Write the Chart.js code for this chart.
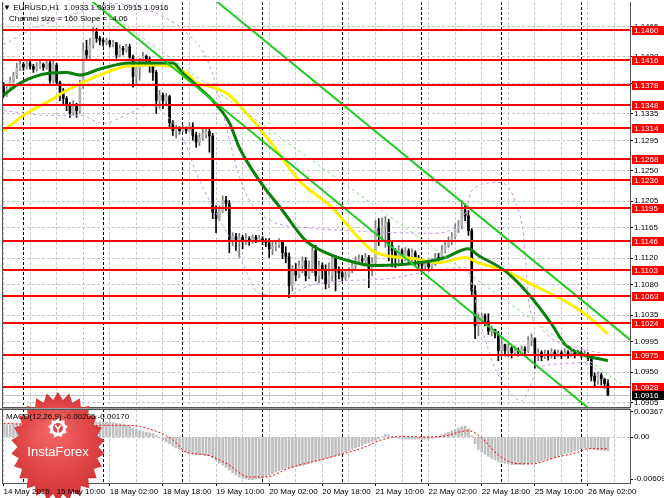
<!DOCTYPE html>
<html>
<head>
<meta charset="utf-8">
<script src="https://cdn.jsdelivr.net/npm/chart.js@4.4.0/dist/chart.umd.min.js"></script>
<style>
html,body{margin:0;padding:0;background:#fff;}
#wrap{position:relative;width:664px;height:498px;overflow:hidden;font-family:"Liberation Sans",Arial,sans-serif;}
#mainChart{position:absolute;left:0;top:0;}
#macdChart{position:absolute;left:0;top:388px;}
.lbl{position:absolute;font-size:8px;line-height:10px;color:#000;white-space:pre;}
</style>
</head>
<body>
<div id="wrap">
<canvas id="mainChart" width="664" height="408"></canvas>
<canvas id="macdChart" width="664" height="110"></canvas>
<div class="lbl" style="left:3px;top:3px">▼ EURUSD,H1  1.0933 1.0939 1.0915 1.0916</div>
<div class="lbl" style="left:9px;top:14px">Channel size = 160 Slope = -4.06</div>
<div class="lbl" style="left:6px;top:412px">MACD(12,26,9) -0.00205 -0.00170</div>
</div>
<script>
// EURUSD H1, one bar per hour starting 14 May 2015 18:00
const firstOpen = 1.1378;
const closes = [
1.1363,1.1373,1.1385,1.1393,1.1403,1.1409,1.1405,1.1411,1.1406,1.1402,
1.1406,1.1409,1.1405,1.1411,1.1385,1.1408,1.1382,1.1367,1.1358,1.1349,
1.1337,1.1346,1.1340,1.1378,1.1430,1.1423,1.1438,1.1457,1.1448,1.1445,
1.1442,1.1444,1.1439,1.1441,1.1423,1.1433,1.1430,1.1435,1.1420,1.1391,
1.1403,1.1412,1.1421,1.1415,1.1408,1.1397,1.1355,1.1363,1.1355,1.1361,
1.1322,1.1310,1.1313,1.1310,1.1313,1.1310,1.1316,1.1303,1.1293,1.1299,
1.1305,1.1309,1.1302,1.1188,1.1179,1.1191,1.1206,1.1201,1.1146,1.1152,
1.1146,1.1151,1.1146,1.1149,1.1146,1.1151,1.1148,1.1149,1.1146,1.1143,
1.1134,1.1137,1.1140,1.1145,1.1128,1.1122,1.1079,1.1101,1.1095,1.1109,
1.1116,1.1094,1.1104,1.1131,1.1094,1.1109,1.1101,1.1082,1.1094,1.1119,
1.1101,1.1098,1.1092,1.1095,1.1101,1.1109,1.1116,1.1119,1.1116,1.1121,
1.1104,1.1113,1.1164,1.1154,1.1168,1.1173,1.1139,1.1131,1.1124,1.1131,
1.1122,1.1131,1.1124,1.1128,1.1119,1.1113,1.1109,1.1112,1.1107,1.1113,
1.1121,1.1119,1.1131,1.1139,1.1146,1.1152,1.1164,1.1168,1.1191,1.1183,
1.1161,1.1071,1.1019,1.1029,1.1034,1.1026,1.1011,1.1014,1.1007,1.0982,
1.0991,1.0982,1.0986,1.0979,1.0983,1.0980,1.0985,1.0982,1.0997,1.1000,
1.0974,1.0979,1.0973,1.0977,1.0974,1.0980,1.0976,1.0979,1.0974,1.0980,
1.0977,1.0979,1.0976,1.0979,1.0976,1.0977,1.0973,1.0944,1.0937,1.0946,
1.0940,1.0933,1.0916];
const highs = [
1.1382,1.1376,1.1390,1.1397,1.1411,1.1415,1.1412,1.1415,1.1414,1.1409,
1.1412,1.1415,1.1411,1.1415,1.1415,1.1415,1.1411,1.1384,1.1373,1.1361,
1.1352,1.1355,1.1351,1.1385,1.1441,1.1445,1.1448,1.1464,1.1463,1.1451,
1.1448,1.1448,1.1445,1.1445,1.1442,1.1438,1.1436,1.1439,1.1439,1.1423,
1.1408,1.1418,1.1427,1.1423,1.1420,1.1410,1.1400,1.1370,1.1366,1.1366,
1.1363,1.1325,1.1318,1.1316,1.1318,1.1316,1.1322,1.1322,1.1308,1.1306,
1.1313,1.1313,1.1313,1.1306,1.1198,1.1198,1.1213,1.1212,1.1206,1.1158,
1.1157,1.1157,1.1154,1.1157,1.1152,1.1155,1.1154,1.1154,1.1152,1.1149,
1.1149,1.1145,1.1146,1.1149,1.1146,1.1137,1.1128,1.1109,1.1112,1.1116,
1.1122,1.1121,1.1116,1.1140,1.1139,1.1116,1.1113,1.1110,1.1113,1.1124,
1.1124,1.1107,1.1101,1.1100,1.1106,1.1116,1.1122,1.1125,1.1124,1.1127,
1.1124,1.1121,1.1176,1.1179,1.1180,1.1182,1.1178,1.1146,1.1134,1.1139,
1.1134,1.1136,1.1134,1.1134,1.1131,1.1124,1.1116,1.1115,1.1113,1.1119,
1.1127,1.1127,1.1139,1.1146,1.1152,1.1158,1.1171,1.1176,1.1206,1.1201,
1.1191,1.1164,1.1079,1.1037,1.1038,1.1037,1.1037,1.1019,1.1014,1.1011,
1.1000,1.0992,1.0992,1.0988,1.0989,1.0986,1.0989,1.0988,1.1003,1.1007,
1.1001,1.0985,1.0982,1.0983,1.0982,1.0985,1.0983,1.0983,1.0982,1.0985,
1.0982,1.0983,1.0982,1.0983,1.0982,1.0982,1.0979,1.0973,1.0949,1.0950,
1.0949,1.0940,1.0939];
const lows = [
1.1360,1.1361,1.1370,1.1382,1.1388,1.1400,1.1400,1.1402,1.1402,1.1397,
1.1399,1.1403,1.1400,1.1402,1.1381,1.1382,1.1378,1.1355,1.1349,1.1340,
1.1330,1.1333,1.1330,1.1336,1.1373,1.1415,1.1418,1.1433,1.1442,1.1438,
1.1436,1.1438,1.1435,1.1435,1.1418,1.1420,1.1423,1.1427,1.1418,1.1375,
1.1378,1.1385,1.1406,1.1409,1.1397,1.1385,1.1336,1.1343,1.1343,1.1349,
1.1313,1.1303,1.1299,1.1305,1.1308,1.1306,1.1309,1.1296,1.1285,1.1288,
1.1296,1.1299,1.1278,1.1179,1.1158,1.1176,1.1188,1.1191,1.1128,1.1139,
1.1131,1.1121,1.1134,1.1140,1.1139,1.1142,1.1143,1.1145,1.1140,1.1137,
1.1121,1.1125,1.1131,1.1136,1.1119,1.1113,1.1061,1.1071,1.1086,1.1091,
1.1098,1.1086,1.1089,1.1098,1.1086,1.1083,1.1089,1.1074,1.1076,1.1086,
1.1071,1.1089,1.1086,1.1088,1.1092,1.1098,1.1104,1.1112,1.1110,1.1113,
1.1076,1.1094,1.1110,1.1139,1.1146,1.1136,1.1116,1.1107,1.1106,1.1113,
1.1113,1.1116,1.1113,1.1110,1.1109,1.1106,1.1104,1.1104,1.1103,1.1104,
1.1109,1.1113,1.1117,1.1128,1.1136,1.1140,1.1149,1.1158,1.1164,1.1176,
1.1154,1.1064,1.1000,1.1004,1.1023,1.1019,1.1006,1.1004,1.1001,1.0967,
1.0973,1.0974,1.0973,1.0971,1.0976,1.0974,1.0977,1.0976,1.0979,1.0989,
1.0956,1.0967,1.0967,1.0970,1.0968,1.0971,1.0970,1.0973,1.0970,1.0973,
1.0971,1.0973,1.0971,1.0974,1.0971,1.0973,1.0967,1.0937,1.0929,1.0932,
1.0931,1.0926,1.0915];

const levels = [1.1460,1.1416,1.1378,1.1348,1.1314,1.1268,1.1236,1.1195,1.1146,1.1103,1.1063,1.1024,1.0975,1.0928];
const lastPrice = 1.0916;
const priceTicks = [1.0905,1.0950,1.0995,1.1035,1.1080,1.1120,1.1165,1.1205,1.1250,1.1295,1.1335,1.1380,1.1420,1.1465];

const timeLabels = ["14 May 2015","15 May 10:00","18 May 02:00","18 May 18:00","19 May 10:00","20 May 02:00","20 May 18:00","21 May 10:00","22 May 02:00","22 May 18:00","25 May 10:00","26 May 02:00"];
const timeLabelBars = [0,16,32,48,64,80,96,112,128,144,160,176];
const daySeparatorBars = [6,30,54,78,102,126,150,174];

// moving averages read at a few bars
const maFastBars = [0,5,14,19,23,29,38,51,54,58,63,68,71,77,84,91,99,104,111,119,129,133,140,143,151,158,165,169,174,182];
const maFastValues = [1.1363,1.1381,1.1396,1.1397,1.1393,1.1402,1.1411,1.1411,1.1396,1.1378,1.1355,1.1322,1.1285,1.1236,1.1191,1.1146,1.1124,1.1116,1.1109,1.1110,1.1116,1.1121,1.1134,1.1124,1.1101,1.1067,1.1022,1.0992,1.0977,1.0967];
const maSlowBars = [0,7,14,19,28,37,47,55,58,63,68,71,80,89,99,105,111,115,124,131,139,143,151,161,169,175,182];
const maSlowValues = [1.1310,1.1336,1.1355,1.1370,1.1391,1.1406,1.1408,1.1396,1.1382,1.1375,1.1363,1.1348,1.1296,1.1236,1.1195,1.1161,1.1131,1.1124,1.1119,1.1113,1.1121,1.1113,1.1101,1.1076,1.1056,1.1037,1.1007];

// bollinger bands
const bandUpBars = [0,8,16,25,32,41,49,55,62,72,79,92,104,129,139,141,149,154,157,158,161,166,173,181];
const bandUpValues = [1.1438,1.1460,1.1475,1.1490,1.1500,1.1494,1.1478,1.1457,1.1408,1.1228,1.1180,1.1165,1.1161,1.1157,1.1187,1.1221,1.1233,1.1206,1.1136,1.1061,1.1022,1.0997,1.0986,1.0977];
const bandLowBars = [0,14,23,30,38,44,51,55,58,71,77,85,92,102,115,129,139,144,148,153,156,158,161,167,175,182];
const bandLowValues = [1.1340,1.1333,1.1333,1.1321,1.1336,1.1348,1.1322,1.1288,1.1248,1.1124,1.1067,1.1064,1.1079,1.1086,1.1089,1.1101,1.1106,1.1016,1.0956,1.0917,1.0907,1.0922,1.0956,1.0962,1.0964,1.0937];

// equidistant channel
const chanBars = [20,190];
const chanUpper = [1.1682,1.0993];
const chanMiddle = [1.1527,1.0918];
const chanLower = [1.1530,1.0840];

// MACD(12,26,9)
const macdHist = [
0.0019,0.0018,0.0018,0.0019,0.0019,0.0020,0.0020,0.0020,0.0020,0.0019,
0.0019,0.0019,0.0018,0.0018,0.0017,0.0017,0.0016,0.0015,0.0013,0.0011,
0.0009,0.0008,0.0007,0.0008,0.0011,0.0014,0.0016,0.0019,0.0021,0.0022,
0.0022,0.0022,0.0021,0.0021,0.0020,0.0019,0.0018,0.0017,0.0016,0.0013,
0.0011,0.0009,0.0008,0.0007,0.0006,0.0005,0.0002,-0.0001,-0.0004,-0.0007,
-0.0010,-0.0013,-0.0016,-0.0018,-0.0020,-0.0022,-0.0023,-0.0024,-0.0025,-0.0026,
-0.0026,-0.0027,-0.0027,-0.0030,-0.0034,-0.0038,-0.0041,-0.0044,-0.0048,-0.0052,
-0.0055,-0.0058,-0.0060,-0.0061,-0.0062,-0.0062,-0.0061,-0.0060,-0.0059,-0.0057,
-0.0055,-0.0053,-0.0051,-0.0049,-0.0047,-0.0045,-0.0045,-0.0044,-0.0043,-0.0042,
-0.0041,-0.0040,-0.0038,-0.0036,-0.0035,-0.0034,-0.0033,-0.0031,-0.0030,-0.0029,
-0.0027,-0.0026,-0.0024,-0.0022,-0.0020,-0.0018,-0.0016,-0.0014,-0.0012,-0.0010,
-0.0008,-0.0007,-0.0005,-0.0003,0.0001,0.0004,0.0003,0.0001,-0.0001,-0.0002,
-0.0003,-0.0003,-0.0003,-0.0003,-0.0003,-0.0003,-0.0004,-0.0003,-0.0003,-0.0002,
-0.0001,0.0001,0.0003,0.0005,0.0007,0.0009,0.0011,0.0013,0.0015,0.0016,
0.0012,0.0002,-0.0010,-0.0018,-0.0022,-0.0025,-0.0028,-0.0031,-0.0033,-0.0036,
-0.0037,-0.0038,-0.0039,-0.0040,-0.0040,-0.0040,-0.0040,-0.0039,-0.0039,-0.0038,
-0.0037,-0.0036,-0.0035,-0.0033,-0.0032,-0.0031,-0.0030,-0.0028,-0.0026,-0.0024,
-0.0023,-0.0022,-0.0020,-0.0018,-0.0017,-0.0016,-0.0016,-0.0017,-0.0018,-0.0019,
-0.0019,-0.0020,-0.00205];
const signalBars = [0,19,32,37,43,51,55,61,67,74,79,86,98,108,114,120,126,132,140,143,149,154,159,166,173,176,182];
const signalValues = [0.0020,0.0016,0.0017,0.0017,0.0013,-0.0004,-0.0022,-0.0026,-0.0038,-0.0058,-0.0058,-0.0045,-0.0030,-0.0016,-0.0004,0.0001,0.0000,0.0001,0.0009,0.0003,-0.0026,-0.0038,-0.0039,-0.0030,-0.0022,-0.0017,-0.0017];
const macdTicks = [0.00367,0,-0.00609];

const xMin = -0.45, xMax = 188.65;
const fontFamily = "'Liberation Sans', Arial, sans-serif";
Chart.defaults.font.family = fontFamily;
Chart.defaults.font.size = 8;
Chart.defaults.color = "#000";

const opens = closes.map((c, i) => i === 0 ? firstOpen : closes[i - 1]);
const isUp = i => closes[i] >= opens[i];
const pts = (bars, vals) => bars.map((b, k) => ({x: b, y: vals[k]}));

const gridBars = [];
for (let b = 0; b <= 184; b += 8) gridBars.push(b);
const xGridTicks = gridBars.concat(daySeparatorBars).sort((a, b) => a - b);
const gridColor = ctx => ctx.tick && daySeparatorBars.includes(ctx.tick.value) ? "#000" : "#c8c8c8";

// keep the plot box where the terminal puts it, no room for label overflow
const noPad = s => { s.paddingTop = 0; s.paddingBottom = 0; s.paddingLeft = 0; s.paddingRight = 0; };

function lineSet(data, color, width, dash, order){
    return {type:"line", data:data, borderColor:color, borderWidth:width, borderDash:dash,
        pointRadius:0, fill:false, cubicInterpolationMode:"monotone", order:order};
}

const framePlugin = {
    id:"frame",
    afterDraw(chart){
        const {ctx, chartArea:a} = chart;
        ctx.save();
        ctx.strokeStyle = "#555";
        ctx.lineWidth = 1;
        ctx.beginPath();
        ctx.moveTo(a.left + 0.5, a.top);
        ctx.lineTo(a.left + 0.5, a.bottom);
        ctx.stroke();
        if (chart.canvas.id === "macdChart") {
            ctx.fillStyle = "#a0a0a0";
            ctx.fillRect(0, a.top - 1, a.right, 1);
            ctx.beginPath();
            ctx.moveTo(0, a.top + 0.5);
            ctx.lineTo(a.right, a.top + 0.5);
            ctx.stroke();
        }
        ctx.restore();
    }
};

const levelPlugin = {
    id:"levels",
    beforeDatasetsDraw(chart){
        const {ctx, chartArea:a, scales:{y}} = chart;
        const py = Math.round(y.getPixelForValue(lastPrice)) + 0.5;
        ctx.save();
        ctx.strokeStyle = "#c0c0c0";
        ctx.lineWidth = 1;
        ctx.beginPath();
        ctx.moveTo(a.left, py);
        ctx.lineTo(a.right, py);
        ctx.stroke();
        ctx.restore();
    },
    afterDatasetsDraw(chart){
        const {ctx, chartArea:a, scales:{y}} = chart;
        ctx.save();
        ctx.strokeStyle = "#ff0000";
        ctx.lineWidth = 2;
        levels.forEach(v => {
            const py = Math.round(y.getPixelForValue(v));
            ctx.beginPath();
            ctx.moveTo(a.left, py);
            ctx.lineTo(a.right, py);
            ctx.stroke();
        });
        ctx.restore();
    },
    afterDraw(chart){
        const {ctx, chartArea:a, scales:{y}} = chart;
        ctx.save();
        ctx.font = "8px " + fontFamily;
        ctx.textBaseline = "middle";
        const box = (v, bg) => {
            const py = Math.round(y.getPixelForValue(v));
            ctx.fillStyle = bg;
            ctx.fillRect(a.right + 2, py - 4, 664 - a.right - 2, 9);
            ctx.fillStyle = "#fff";
            ctx.fillText(v.toFixed(4), a.right + 4, py + 0.5);
        };
        levels.forEach(v => box(v, "#ff0000"));
        box(lastPrice, "#000");
        ctx.restore();
    }
};

// InstaForex badge, painted over the MACD bars but under the time labels
function starPath(ctx, cx, cy, rx, ry, n, inner){
    ctx.beginPath();
    for (let k = 0; k < n * 2; k++) {
        const a = Math.PI * k / n - Math.PI / 2;
        const r = k % 2 ? inner : 1;
        const px = cx + Math.cos(a) * rx * r, py = cy + Math.sin(a) * ry * r;
        if (k === 0) ctx.moveTo(px, py); else ctx.lineTo(px, py);
    }
    ctx.closePath();
}
const logoPlugin = {
    id:"logo",
    afterDatasetsDraw(chart){
        const ctx = chart.ctx;
        const cx = 58, cy = 59;
        ctx.save();
        const g = ctx.createRadialGradient(cx - 6, cy - 18, 4, cx, cy, 58);
        g.addColorStop(0, "#f46565");
        g.addColorStop(1, "#d03030");
        ctx.fillStyle = g;
        starPath(ctx, cx, cy, 47, 55, 26, 0.86);
        ctx.fill();
        ctx.fillStyle = "#fff";
        starPath(ctx, cx, 40, 10, 10, 9, 0.75);
        ctx.fill();
        ctx.fillStyle = "#e24848";
        ctx.beginPath();
        ctx.arc(cx, 40, 5, 0, Math.PI * 2);
        ctx.fill();
        ctx.strokeStyle = "#fff";
        ctx.lineWidth = 1.6;
        ctx.beginPath();
        ctx.moveTo(cx - 3, 37); ctx.lineTo(cx, 41); ctx.lineTo(cx + 3, 37);
        ctx.moveTo(cx, 41); ctx.lineTo(cx, 46);
        ctx.stroke();
        ctx.fillStyle = "#fff";
        ctx.font = "13px " + fontFamily;
        ctx.textAlign = "center";
        ctx.textBaseline = "alphabetic";
        ctx.fillText("InstaForex", cx, 68);
        ctx.restore();
    }
};

new Chart(document.getElementById("mainChart"), {
    type:"bar",
    data:{
        datasets:[
            lineSet(pts(chanBars, chanUpper), "#22cc22", 2, [], 1),
            lineSet(pts(chanBars, chanLower), "#22cc22", 2, [], 1),
            lineSet(pts(chanBars, chanMiddle), "#7ee07e", 1, [3,3], 1),
            lineSet(pts(maFastBars, maFastValues), "#0a800a", 3, [], 2),
            lineSet(pts(maSlowBars, maSlowValues), "#ffee00", 3, [], 3),
            lineSet(pts(bandUpBars, bandUpValues), "#c896e6", 1, [3,3], 4),
            lineSet(pts(bandLowBars, bandLowValues), "#c896e6", 1, [3,3], 4),
            {
                type:"bar",
                data:closes.map((c, i) => ({x:i, y:[opens[i], c]})),
                backgroundColor:ctx => isUp(ctx.dataIndex) ? "#b4b4b4" : "#000",
                barThickness:2, minBarLength:1, grouped:false, order:5
            },
            {
                type:"bar",
                data:lows.map((l, i) => ({x:i, y:[l, highs[i]]})),
                backgroundColor:ctx => isUp(ctx.dataIndex) ? "#7a7a7a" : "#000",
                barThickness:1, grouped:false, order:6
            }
        ]
    },
    options:{
        responsive:false,
        animation:false,
        devicePixelRatio:1,
        events:[],
        layout:{padding:{left:2, top:2, right:0, bottom:1}},
        plugins:{legend:{display:false}, tooltip:{enabled:false}},
        scales:{
            x:{
                type:"linear", min:xMin, max:xMax, offset:false,
                afterBuildTicks:s => { s.ticks = xGridTicks.map(v => ({value:v})); },
                afterFit:s => { s.height = 0; noPad(s); },
                ticks:{display:false},
                grid:{color:gridColor, drawTicks:false, offset:false},
                border:{color:"#555", dash:[3,2]}
            },
            y:{
                position:"right", min:1.0898, max:1.1502, beginAtZero:false,
                afterBuildTicks:s => { s.ticks = priceTicks.map(v => ({value:v})); },
                afterFit:s => { s.width = 34; noPad(s); },
                ticks:{callback:v => v.toFixed(4), padding:1, autoSkip:false, font:{size:8}},
                grid:{color:"#c8c8c8", tickColor:"#000", tickLength:3},
                border:{color:"#555", dash:[3,2]}
            }
        }
    },
    plugins:[levelPlugin, framePlugin]
});

new Chart(document.getElementById("macdChart"), {
    type:"bar",
    data:{
        datasets:[
            {
                type:"line",
                data:pts(signalBars, signalValues),
                borderColor:"#ff0000", borderWidth:1, borderDash:[2,2],
                pointRadius:0, cubicInterpolationMode:"monotone", order:1
            },
            {
                type:"bar",
                data:macdHist.map((v, i) => ({x:i, y:v})),
                backgroundColor:"#c0c0c0",
                barThickness:2, grouped:false, order:2
            }
        ]
    },
    options:{
        responsive:false,
        animation:false,
        devicePixelRatio:1,
        events:[],
        layout:{padding:{left:2, top:21, right:0, bottom:0}},
        plugins:{legend:{display:false}, tooltip:{enabled:false}},
        scales:{
            x:{
                type:"linear", min:xMin, max:xMax, offset:false,
                afterBuildTicks:s => { s.ticks = xGridTicks.map(v => ({value:v})); },
                afterFit:s => { s.height = 15; noPad(s); },
                ticks:{
                    callback:v => { const k = timeLabelBars.indexOf(v); return k >= 0 ? timeLabels[k] : ""; },
                    align:"start", maxRotation:0, minRotation:0, autoSkip:false, padding:1, font:{size:8}, z:1
                },
                grid:{
                    color:gridColor, offset:false, tickLength:3,
                    tickColor:ctx => ctx.tick && timeLabelBars.includes(ctx.tick.value) ? "#000" : "rgba(0,0,0,0)"
                },
                border:{color:"#555", dash:[3,2]}
            },
            y:{
                position:"right", min:-0.00667, max:0.00406, beginAtZero:false,
                afterBuildTicks:s => { s.ticks = macdTicks.map(v => ({value:v})); },
                afterFit:s => { s.width = 34; noPad(s); },
                ticks:{callback:v => v === 0 ? "0.00" : v.toFixed(5), padding:1, autoSkip:false, font:{size:8}},
                grid:{color:ctx => ctx.tick && ctx.tick.value === 0 ? "#c8c8c8" : "rgba(0,0,0,0)", tickColor:"#000", tickLength:3},
                border:{color:"#555", dash:[3,2]}
            }
        }
    },
    plugins:[logoPlugin, framePlugin]
});
</script>
</body>
</html>
